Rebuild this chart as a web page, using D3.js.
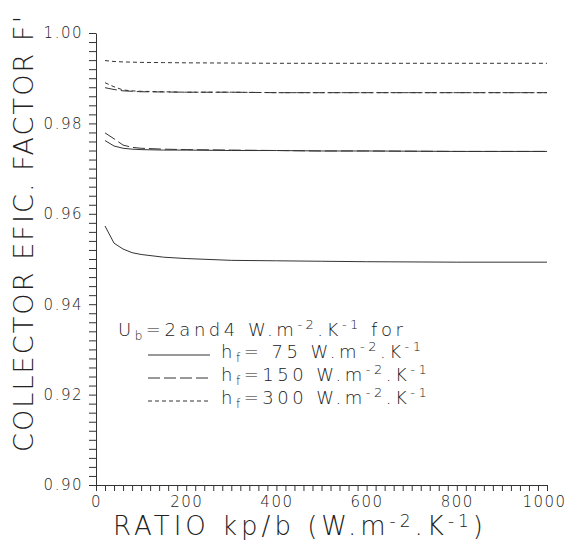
<!DOCTYPE html>
<html lang="en">
  <head>
    <meta charset="utf-8" />
    <title>Collector efficiency factor</title>
    <style>
      body { margin: 0; background: #fff; }
      svg text { font-family: "DejaVu Sans", sans-serif; font-weight: 200; fill: #222; }
    </style>
  </head>
  <body>
    <div id="graph-display"></div>

    <script src="https://d3js.org/d3.v7.min.js"></script>
    <script>
      // values
      const ratio = [20, 40, 60, 80, 100, 150, 200, 300, 400, 500, 600, 800, 1000];
      const fHf75Ub4 = [0.9573, 0.9535, 0.9522, 0.9514, 0.9510, 0.9504, 0.9501, 0.9497, 0.9496, 0.9495, 0.9494, 0.9493, 0.9493];
      const fHf75Ub2 = [0.9762, 0.9750, 0.9745, 0.9743, 0.9742, 0.9741, 0.9741, 0.9740, 0.9740, 0.9739, 0.9739, 0.9738, 0.9738];
      const fHf150Ub4 = [0.9779, 0.9766, 0.9752, 0.9747, 0.9745, 0.9743, 0.9742, 0.9741, 0.9740, 0.9739, 0.9739, 0.9738, 0.9738];
      const fHf150Ub2 = [0.9879, 0.9875, 0.9872, 0.9871, 0.9870, 0.98695, 0.9869, 0.9869, 0.9868, 0.9868, 0.9868, 0.9868, 0.9868];
      const fHf300Ub4 = [0.9890, 0.9881, 0.9874, 0.9872, 0.9871, 0.9870, 0.9869, 0.9869, 0.9868, 0.9868, 0.9868, 0.9868, 0.9868];
      const fHf300Ub2 = [0.9939, 0.9937, 0.9936, 0.99355, 0.9935, 0.99345, 0.9934, 0.99335, 0.9933, 0.9933, 0.9933, 0.9933, 0.9933];

      const xTicks = d3.range(0, 1001, 20);
      const xLabels = [0, 200, 400, 600, 800, 1000];
      const yTicks = d3.range(0, 51).map((i) => +(0.9 + i * 0.002).toFixed(3));
      const yLabels = [0.9, 0.92, 0.94, 0.96, 0.98, 1.0];

      const legendRows = ["75", "150", "300"];
      const dashes = { solid: null, long: "12,4", short: "4,3" };

      const series = [
        { values: fHf75Ub4, dash: "solid" },
        { values: fHf75Ub2, dash: "solid" },
        { values: fHf150Ub4, dash: "long" },
        { values: fHf150Ub2, dash: "long" },
        { values: fHf300Ub4, dash: "short" },
        { values: fHf300Ub2, dash: "short" },
      ];

      const width = 568;
      const height = 543;

      const xScale = d3.scaleLinear().domain([0, 1000]).range([96, 547]);
      const yScale = d3.scaleLinear().domain([0.9, 1.0]).range([485, 33]);

      const svg = d3
        .select("#graph-display")
        .append("svg")
        .attr("width", width)
        .attr("height", height);

      const same = (a, b) => Math.abs(a - b) < 1e-6;

      // y axis: minor ticks every 0.002, labels every 0.02
      const yAxis = svg
        .append("g")
        .attr("transform", `translate(${xScale(0)},0)`)
        .call(
          d3
            .axisLeft(yScale)
            .tickValues(yTicks)
            .tickSize(7)
            .tickSizeOuter(0)
            .tickPadding(6)
            .tickFormat((d) => (yLabels.some((v) => same(v, d)) ? d3.format(".2f")(d) : ""))
        );

      // x axis: ticks every 20, labels every 200
      const xAxis = svg
        .append("g")
        .attr("transform", `translate(0,${yScale(0.9)})`)
        .call(
          d3
            .axisBottom(xScale)
            .tickValues(xTicks)
            .tickSize(6)
            .tickSizeOuter(0)
            .tickPadding(5)
            .tickFormat((d) => (xLabels.includes(d) ? d : ""))
        );

      [yAxis, xAxis].forEach((ax) => {
        ax.selectAll("path, line").attr("stroke", "#333").attr("stroke-width", 1);
        ax.selectAll("text")
          .filter(function () { return this.textContent === ""; })
          .remove();
        ax.selectAll("text")
          .style("font-size", "15px")
          .style("letter-spacing", "1.5px")
          .attr("fill", "#222");
      });
      xAxis.selectAll("text").filter((d) => d === 1000).attr("dx", -3);

      // curves
      const line = d3
        .line()
        .x((d) => xScale(d[0]))
        .y((d) => yScale(d[1]));

      svg
        .selectAll("path.curve")
        .data(series)
        .enter()
        .append("path")
        .attr("class", "curve")
        .attr("d", (s) => line(ratio.map((r, i) => [r, s.values[i]])))
        .attr("fill", "none")
        .attr("stroke", "#333")
        .attr("stroke-width", 1)
        .attr("stroke-dasharray", (s) => dashes[s.dash]);

      // axis titles
      const xTitle = svg
        .append("text")
        .attr("x", 113)
        .attr("y", 535)
        .style("font-size", "26px")
        .style("letter-spacing", "4px");
      xTitle.append("tspan").text("RATIO kp/b (W.m");
      xTitle.append("tspan").attr("dy", -8).style("font-size", "17px").text("-2");
      xTitle.append("tspan").attr("dy", 8).text(".K");
      xTitle.append("tspan").attr("dy", -8).style("font-size", "17px").text("-1");
      xTitle.append("tspan").attr("dy", 8).text(")");

      svg
        .append("text")
        .attr("transform", "translate(33,452) rotate(-90)")
        .style("font-size", "27px")
        .style("letter-spacing", "2.1px")
        .text("COLLECTOR EFIC. FACTOR F'");

      // legend
      const head = svg
        .append("text")
        .attr("x", 118)
        .attr("y", 336)
        .style("font-size", "18px")
        .style("letter-spacing", "3.5px");
      head.append("tspan").text("U");
      head.append("tspan").attr("dy", 4).style("font-size", "12px").text("b");
      head.append("tspan").attr("dy", -4).text("=2and4  W.m");
      head.append("tspan").attr("dy", -7).style("font-size", "13px").text("-2");
      head.append("tspan").attr("dy", 7).text(".K");
      head.append("tspan").attr("dy", -7).style("font-size", "13px").text("-1");
      head.append("tspan").attr("dy", 7).text(" for");

      const rowY = [358, 381, 404];
      const rowDash = ["solid", "long", "short"];
      legendRows.forEach((h, i) => {
        svg
          .append("line")
          .attr("x1", 148)
          .attr("x2", 210)
          .attr("y1", rowY[i] - 3)
          .attr("y2", rowY[i] - 3)
          .attr("stroke", "#333")
          .attr("stroke-width", 1)
          .attr("stroke-dasharray", dashes[rowDash[i]]);
        const t = svg
          .append("text")
          .attr("x", 221)
          .attr("y", rowY[i])
          .style("font-size", "18px")
          .style("letter-spacing", "3.5px");
        t.append("tspan").text("h");
        t.append("tspan").attr("dy", 4).style("font-size", "12px").text("f");
        t.append("tspan").attr("dy", -4).text("=" + (h.length < 3 ? " " : "") + h + " W.m");
        t.append("tspan").attr("dy", -7).style("font-size", "13px").text("-2");
        t.append("tspan").attr("dy", 7).text(".K");
        t.append("tspan").attr("dy", -7).style("font-size", "13px").text("-1");
      });
    </script>
  </body>
</html>
